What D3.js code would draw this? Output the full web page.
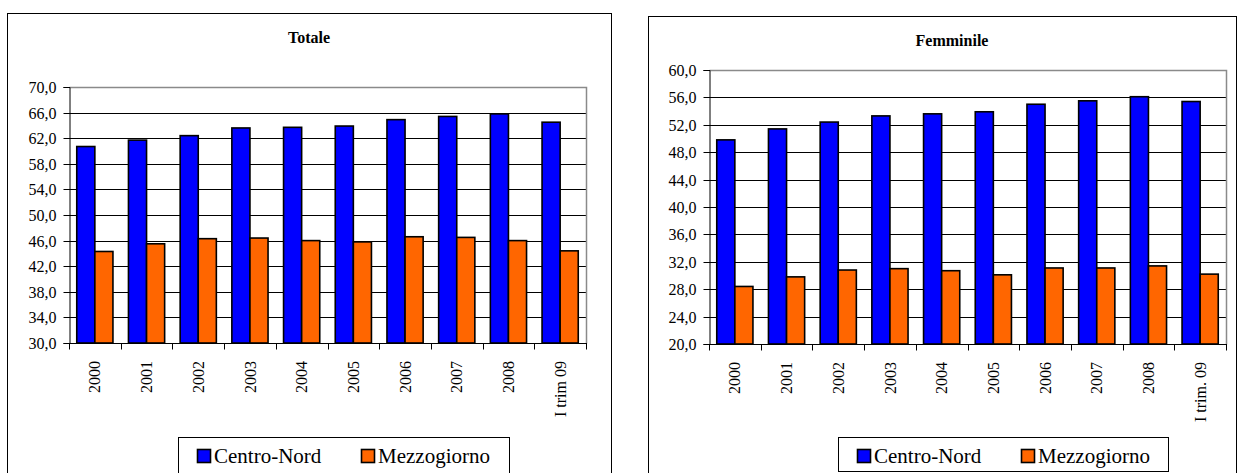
<!DOCTYPE html>
<html>
<head>
<meta charset="utf-8">
<script src="https://cdn.jsdelivr.net/npm/d3@7"></script>
<style>
  html, body { margin: 0; padding: 0; background: #fff; }
  svg { display: block; font-family: "Liberation Serif", "Times New Roman", serif; }
  text { font-family: "Liberation Serif", "Times New Roman", serif; fill: #000; }
</style>
</head>
<body>
<svg id="chart" width="1240" height="473"></svg>
<script>
// Tassi di occupazione: Centro-Nord vs Mezzogiorno
const categoriesTotale = ["2000", "2001", "2002", "2003", "2004", "2005", "2006", "2007", "2008", "I trim 09"];
const categoriesFemminile = ["2000", "2001", "2002", "2003", "2004", "2005", "2006", "2007", "2008", "I trim. 09"];
const seriesNames = ["Centro-Nord", "Mezzogiorno"];

const totaleCentroNord = [60.7, 61.7, 62.4, 63.6, 63.7, 63.9, 64.9, 65.4, 65.8, 64.5];
const totaleMezzogiorno = [44.3, 45.5, 46.3, 46.4, 46.0, 45.8, 46.6, 46.5, 46.0, 44.4];
const femminileCentroNord = [49.8, 51.4, 52.4, 53.3, 53.6, 53.9, 55.0, 55.5, 56.1, 55.4];
const femminileMezzogiorno = [28.4, 29.8, 30.8, 31.0, 30.7, 30.1, 31.1, 31.1, 31.4, 30.2];

const ticksTotale = [30, 34, 38, 42, 46, 50, 54, 58, 62, 66, 70];
const ticksFemminile = [20, 24, 28, 32, 36, 40, 44, 48, 52, 56, 60];

const colors = { "Centro-Nord": "#0000ff", "Mezzogiorno": "#ff6600" };

const it = d3.formatLocale({ decimal: ",", thousands: ".", grouping: [3], currency: ["", " €"] });
const fmt = it.format(".1f");
const serif = '"Liberation Serif", "Times New Roman", serif';

const svg = d3.select("#chart");

function drawPanel(cfg) {
  const g = svg.append("g").attr("font-family", serif);

  // panel frame
  g.append("rect")
    .attr("x", cfg.frame[0] + 0.5).attr("y", cfg.frame[1] + 0.5)
    .attr("width", cfg.frame[2]).attr("height", cfg.frame[3])
    .attr("fill", "#fff").attr("stroke", "#000").attr("stroke-width", 1);

  // title
  g.append("text")
    .attr("x", cfg.titlePos[0]).attr("y", cfg.titlePos[1])
    .attr("text-anchor", "middle")
    .style("font-size", "16px").style("font-weight", "bold")
    .text(cfg.title);

  const L = cfg.plot.left, R = cfg.plot.right, T = cfg.plot.top, B = cfg.plot.bottom;
  const ticks = cfg.ticks;

  const y = d3.scaleLinear().domain([ticks[0], ticks[ticks.length - 1]]).range([B, T]);
  const x0 = d3.scaleBand().domain(cfg.categories).range([L, R])
    .paddingInner(0.3).paddingOuter(0.15);
  const x1 = d3.scaleBand().domain(seriesNames).range([0, x0.bandwidth()]);

  const px = v => Math.round(v) + 0.5;

  // horizontal gridlines
  g.append("g").selectAll("line")
    .data(ticks.slice(1, -1))
    .join("line")
    .attr("x1", L).attr("x2", R)
    .attr("y1", d => px(y(d))).attr("y2", d => px(y(d)))
    .attr("stroke", "#000").attr("stroke-width", 1);

  // plot area border (top/right)
  g.append("path")
    .attr("d", `M${px(L)},${px(T)}H${px(R)}V${px(B)}`)
    .attr("fill", "none").attr("stroke", "#8a8a8a").attr("stroke-width", 1.5);

  // bars
  const rows = cfg.categories.map((c, i) => ({ cat: c, values: [
    { key: seriesNames[0], value: cfg.series[0][i] },
    { key: seriesNames[1], value: cfg.series[1][i] }
  ]}));

  g.append("g").selectAll("g")
    .data(rows)
    .join("g")
    .attr("transform", d => `translate(${x0(d.cat)},0)`)
    .selectAll("rect")
    .data(d => d.values)
    .join("rect")
    .attr("x", d => x1(d.key))
    .attr("width", x1.bandwidth())
    .attr("y", d => y(d.value))
    .attr("height", d => B - y(d.value))
    .attr("fill", d => colors[d.key])
    .attr("stroke", "#000").attr("stroke-width", 1.6);

  // y axis
  const yAxis = d3.axisLeft(y).tickValues(ticks).tickFormat(fmt).tickSize(6).tickPadding(7);
  const ya = g.append("g").attr("transform", `translate(${px(L)},0)`).call(yAxis);
  ya.attr("font-family", serif).attr("font-size", 16);
  ya.selectAll("line").attr("stroke", "#000");
  ya.select(".domain").attr("stroke", "#000");
  ya.selectAll("text").attr("fill", "#000");
  ya.selectAll(".tick").attr("transform", d => `translate(0,${px(y(d))})`);

  // x axis line and category boundary ticks
  g.append("line")
    .attr("x1", L).attr("x2", R + 1)
    .attr("y1", px(B)).attr("y2", px(B))
    .attr("stroke", "#000");
  const step = x0.step();
  const boundaries = cfg.categories.map(c => x0(c) - (step - x0.bandwidth()) / 2).concat([R]);
  g.append("g").selectAll("line")
    .data(boundaries)
    .join("line")
    .attr("x1", d => px(d)).attr("x2", d => px(d))
    .attr("y1", px(B)).attr("y2", px(B) + 6)
    .attr("stroke", "#000");

  // category labels, rotated
  g.append("g").selectAll("text")
    .data(cfg.categories)
    .join("text")
    .attr("transform", d => `translate(${x0(d) + x0.bandwidth() / 2},${B + 18}) rotate(-90)`)
    .attr("text-anchor", "end")
    .attr("dy", "0.35em")
    .style("font-size", "16px")
    .text(d => d);

  // legend
  const lg = g.append("g");
  lg.append("rect")
    .attr("x", cfg.legend.x + 0.5).attr("y", cfg.legend.y + 0.5)
    .attr("width", cfg.legend.w).attr("height", cfg.legend.h)
    .attr("fill", "#fff").attr("stroke", "#000");
  const items = lg.selectAll("g.item")
    .data(seriesNames)
    .join("g")
    .attr("class", "item")
    .attr("transform", (d, i) => `translate(${cfg.legend.x + 19 + i * 164},${cfg.legend.y + 19})`);
  items.append("rect")
    .attr("x", 0.5).attr("y", -6.5).attr("width", 13).attr("height", 13)
    .attr("fill", d => colors[d]).attr("stroke", "#000").attr("stroke-width", 1.6);
  items.append("text")
    .attr("x", 17).attr("y", 0).attr("dy", "0.35em")
    .style("font-size", "21px")
    .text(d => d);
}

drawPanel({
  frame: [7, 13, 604, 480],
  title: "Totale",
  titlePos: [309, 43],
  plot: { left: 69, right: 586, top: 87, bottom: 343 },
  ticks: ticksTotale,
  categories: categoriesTotale,
  series: [totaleCentroNord, totaleMezzogiorno],
  legend: { x: 178, y: 437, w: 331, h: 60 }
});

drawPanel({
  frame: [648, 16, 588, 480],
  title: "Femminile",
  titlePos: [952, 46],
  plot: { left: 709, right: 1226, top: 70, bottom: 344 },
  ticks: ticksFemminile,
  categories: categoriesFemminile,
  series: [femminileCentroNord, femminileMezzogiorno],
  legend: { x: 838, y: 437, w: 330, h: 34 }
});
</script>
</body>
</html>
